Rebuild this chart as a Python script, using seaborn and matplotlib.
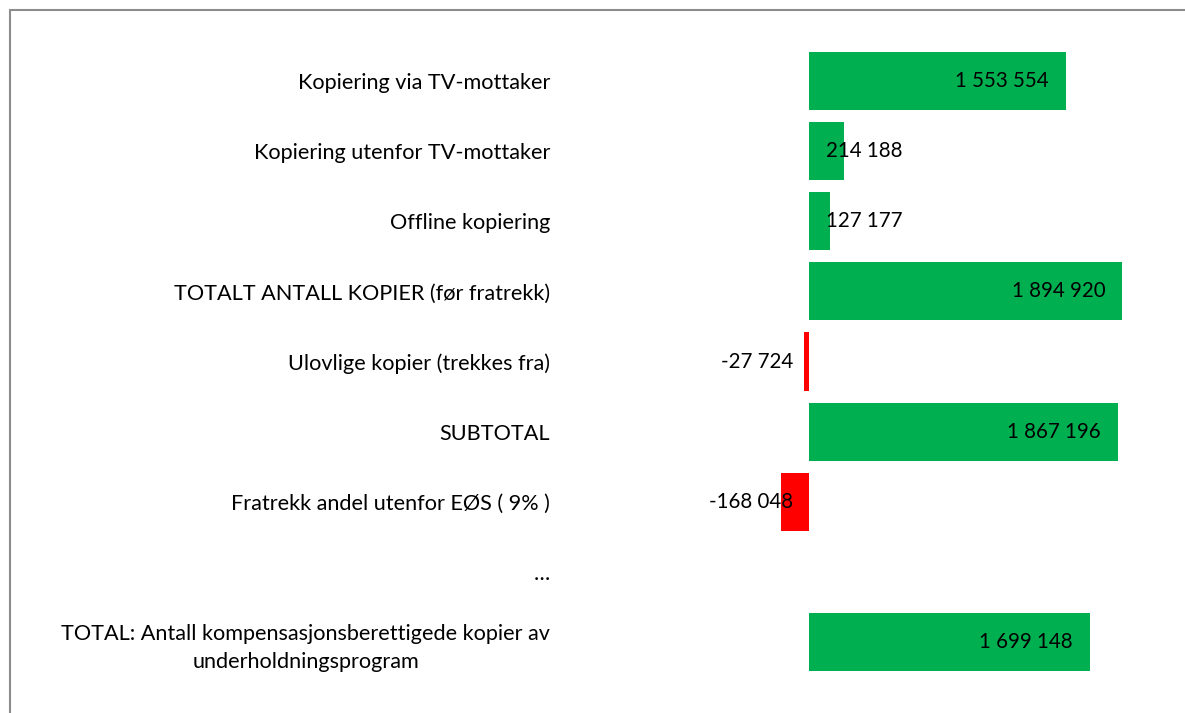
import numpy as np
import pandas as pd
import matplotlib
matplotlib.use("Agg")
import matplotlib.pyplot as plt
import seaborn as sns
from matplotlib.lines import Line2D

# === Data ===
categories = [
    "Kopiering via TV-mottaker",
    "Kopiering utenfor TV-mottaker",
    "Offline kopiering",
    "TOTALT ANTALL KOPIER (før fratrekk)",
    "Ulovlige kopier (trekkes fra)",
    "SUBTOTAL",
    "Fratrekk andel utenfor EØS ( 9% )",
    "…",
    "TOTAL: Antall kompensasjonsberettigede kopier av\nunderholdningsprogram",
]
values = [1553554, 214188, 127177, 1894920, -27724, 1867196, -168048, np.nan, 1699148]
value_labels = ["1 553 554", "214 188", "127 177", "1 894 920", "-27 724",
                "1 867 196", "-168 048", "", "1 699 148"]

GREEN = "#00B050"
RED = "#FF0000"

df = pd.DataFrame({"cat": categories, "val": values})
df["sign"] = np.where(df["val"] < 0, "neg", "pos")

# === Figure ===
sns.set_theme(style="white")
plt.rcParams["font.family"] = ["Lato", "DejaVu Sans"]
plt.rcParams["text.color"] = "black"
plt.rcParams["ytick.color"] = "black"

W, H = 1185, 713
fig = plt.figure(figsize=(W / 100, H / 100), dpi=100)
ax = fig.add_axes([600 / W, 1 - 677 / H, 560 / W, 631 / H])

sns.barplot(data=df, y="cat", x="val", hue="sign", order=categories,
            palette={"pos": GREEN, "neg": RED}, orient="h", width=0.83,
            saturation=1, linewidth=0, legend=False, ax=ax, errorbar=None)

px_per_unit = 165.4e-6
ax.set_xlim((600 - 809) / px_per_unit, (1160 - 809) / px_per_unit)
ax.set_ylim(8.5, -0.5)

# value labels
fs_val = 14.8
off = 17 / px_per_unit
for i, (v, lab) in enumerate(zip(values, value_labels)):
    if not lab:
        continue
    if v < 0:
        ax.text(-16 / px_per_unit, i, lab, ha="right", va="center", fontsize=fs_val, color="black")
    elif v > 1.0e6:
        ax.text(v - off, i, lab, ha="right", va="center", fontsize=fs_val, color="black")
    else:
        ax.text(off, i, lab, ha="left", va="center", fontsize=fs_val, color="black")

ax.set_xlabel("")
ax.set_ylabel("")
ax.set_xticks([])
ax.tick_params(axis="y", length=0, pad=36, labelsize=15.6, labelcolor="black")
for t in ax.get_yticklabels():
    t.set_multialignment("center")
    t.set_linespacing(1.5)
for s in ax.spines.values():
    s.set_visible(False)

# outer frame (left and top edges visible)
fig.add_artist(Line2D([10 / W, 10 / W], [0, 1 - 10 / H], transform=fig.transFigure,
                      color="#8c8c8c", linewidth=1.5))
fig.add_artist(Line2D([10 / W, 1], [1 - 10 / H, 1 - 10 / H], transform=fig.transFigure,
                      color="#8c8c8c", linewidth=1.5))

fig.savefig("out.png", dpi=100)
